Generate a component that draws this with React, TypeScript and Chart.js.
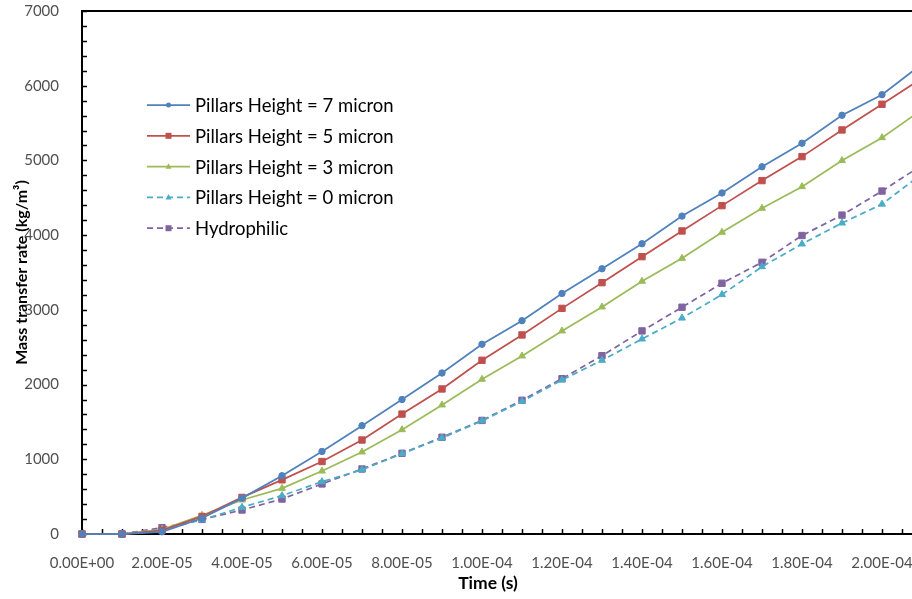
import React, { useEffect, useRef } from 'react';
import { Chart, registerables } from 'chart.js';

Chart.register(...registerables);

// Time (s)
const times = [
  0, 1e-5, 2e-5, 3e-5, 4e-5, 5e-5, 6e-5, 7e-5, 8e-5, 9e-5, 1e-4,
  1.1e-4, 1.2e-4, 1.3e-4, 1.4e-4, 1.5e-4, 1.6e-4, 1.7e-4, 1.8e-4, 1.9e-4, 2e-4, 2.1e-4,
];

// Mass transfer rate (kg/m3)
const height7 = [0, 0, 30, 210, 480, 780, 1105, 1450, 1800, 2155, 2540, 2855, 3220, 3550, 3885, 4255, 4565, 4915, 5230, 5605, 5880, 6290];
const height5 = [0, 0, 50, 235, 490, 725, 970, 1258, 1605, 1941, 2325, 2664, 3020, 3364, 3712, 4056, 4395, 4730, 5051, 5408, 5752, 6100];
const height3 = [0, 0, 60, 250, 455, 611, 843, 1098, 1396, 1727, 2071, 2383, 2718, 3039, 3383, 3690, 4039, 4360, 4649, 4998, 5305, 5680];
const height0 = [0, 0, 60, 190, 357, 513, 700, 860, 1075, 1285, 1515, 1775, 2062, 2325, 2610, 2890, 3204, 3578, 3882, 4162, 4415, 4820];
const hydrophilic = [0, 0, 85, 195, 321, 468, 670, 870, 1080, 1295, 1520, 1790, 2079, 2387, 2718, 3035, 3356, 3637, 3995, 4268, 4590, 4937];

const seriesLabels = [
  'Pillars Height = 7 micron',
  'Pillars Height = 5 micron',
  'Pillars Height = 3 micron',
  'Pillars Height = 0 micron',
  'Hydrophilic',
];

const xMin = 0;
const xMax = 2.2e-4;
const xStep = 2e-5;
const xMinorStep = 5e-6;
const yMin = 0;
const yMax = 7000;
const yStep = 1000;
const yMinorStep = 200;

const xTitle = 'Time (s)';
const yTitle = 'Mass transfer rate (kg/m\u00B3)';

const FONT = 'Lato, "Noto Sans", sans-serif';
const TICK_COLOR = '#505050';

function fmtExp(v: number): string {
  if (Math.abs(v) < 1e-15) return '0.00E+00';
  const [m, e] = v.toExponential(2).split('e');
  const n = parseInt(e, 10);
  return m + 'E' + (n < 0 ? '-' : '+') + String(Math.abs(n)).padStart(2, '0');
}

function drawMarker(ctx: CanvasRenderingContext2D, style: string, x: number, y: number, r: number, color: string) {
  ctx.save();
  ctx.fillStyle = color;
  ctx.strokeStyle = color;
  ctx.setLineDash([]);
  ctx.beginPath();
  if (style === 'circle') {
    ctx.arc(x, y, r, 0, Math.PI * 2);
  } else if (style === 'rect') {
    ctx.rect(x - r, y - r, 2 * r, 2 * r);
  } else if (style === 'triangle') {
    ctx.moveTo(x, y - r * 1.1);
    ctx.lineTo(x + r, y + r * 0.7);
    ctx.lineTo(x - r, y + r * 0.7);
    ctx.closePath();
  }
  ctx.fill();
  ctx.restore();
}

const framePlugin = {
  id: 'frame',
  beforeDatasetsDraw(chart: any) {
    const { ctx, chartArea } = chart;
    const xs = chart.scales.x;
    const ys = chart.scales.y;
    const { left, right, top, bottom } = chartArea;
    ctx.save();
    ctx.strokeStyle = '#000';
    ctx.lineWidth = 1.5;
    for (let v = yMin; v <= yMax + 1e-9; v += yMinorStep) {
      const py = Math.round(ys.getPixelForValue(v)) + 0.5;
      ctx.beginPath();
      ctx.moveTo(left, py);
      ctx.lineTo(left + 5, py);
      ctx.stroke();
    }
    for (let i = 0; i * xMinorStep <= xMax + 1e-12; i++) {
      const px = Math.round(xs.getPixelForValue(i * xMinorStep)) + 0.5;
      ctx.beginPath();
      ctx.moveTo(px, bottom);
      ctx.lineTo(px, bottom - 5);
      ctx.stroke();
    }
    ctx.lineWidth = 2;
    ctx.beginPath();
    ctx.moveTo(left, top);
    ctx.lineTo(right, top);
    ctx.moveTo(left, top - 1);
    ctx.lineTo(left, bottom + 1);
    ctx.moveTo(left - 1, bottom);
    ctx.lineTo(right, bottom);
    ctx.stroke();
    ctx.restore();
  },
};

const legendPlugin = {
  id: 'customLegend',
  afterDraw(chart: any) {
    const { ctx } = chart;
    const x0 = 147;
    const x1 = 190;
    const y0 = 105;
    const dy = 30.8;
    ctx.save();
    chart.data.datasets.forEach((ds: any, i: number) => {
      const y = y0 + i * dy;
      ctx.strokeStyle = ds.borderColor;
      ctx.lineWidth = 1.75;
      ctx.setLineDash(ds.borderDash || []);
      ctx.beginPath();
      ctx.moveTo(x0, y);
      ctx.lineTo(x1, y);
      ctx.stroke();
      const r = ds.pointStyle === 'circle' ? 2.5 : 3;
      drawMarker(ctx, ds.pointStyle, (x0 + x1) / 2, y, r, ds.borderColor);
      ctx.fillStyle = '#000';
      ctx.font = `18.5px ${FONT}`;
      ctx.textBaseline = 'middle';
      ctx.textAlign = 'left';
      ctx.fillText(ds.label, 195, y + 1);
    });
    ctx.restore();
  },
};

const xTitlePlugin = {
  id: 'xTitle',
  afterDraw(chart: any) {
    const { ctx, chartArea } = chart;
    ctx.save();
    ctx.fillStyle = '#000';
    ctx.font = `bold 17.5px ${FONT}`;
    ctx.textAlign = 'center';
    ctx.textBaseline = 'middle';
    ctx.fillText(xTitle, chartArea.left + 406, 583);
    ctx.restore();
  },
};

export default function App() {
  const ref = useRef<HTMLCanvasElement>(null);
  useEffect(() => {
    const canvas = ref.current;
    if (!canvas) return;
    const pts = (vals: number[]) => times.map((t, i) => ({ x: t, y: vals[i] }));
    const mk = (i: number, vals: number[], color: string, style: string, radius: number, dashed: boolean) => ({
      label: seriesLabels[i],
      data: pts(vals),
      borderColor: color,
      backgroundColor: color,
      pointBackgroundColor: color,
      pointBorderColor: color,
      pointStyle: style,
      pointRadius: radius,
      pointBorderWidth: 1,
      borderWidth: 1.75,
      borderDash: dashed ? [6, 4] : [],
      tension: 0,
      clip: false as any,
      fill: false,
    });
    const chart = new Chart(canvas, {
      type: 'line',
      data: {
        datasets: [
          mk(0, height7, '#4F81BD', 'circle', 3.2, false),
          mk(1, height5, '#C0504D', 'rect', 4.5, false),
          mk(2, height3, '#9BBB59', 'triangle', 4, false),
          mk(3, height0, '#4BACC6', 'triangle', 4, true),
          mk(4, hydrophilic, '#8064A2', 'rect', 4.5, true),
        ] as any,
      },
      options: {
        responsive: false,
        animation: false,
        events: [],
        layout: { padding: { top: 11, right: 8, left: 0, bottom: 0 } },
        plugins: {
          legend: { display: false },
          tooltip: { enabled: false },
          title: { display: false },
        },
        scales: {
          x: {
            type: 'linear',
            min: xMin,
            max: xMax,
            grid: { display: false },
            border: { display: false },
            ticks: {
              stepSize: xStep,
              autoSkip: false,
              maxRotation: 0,
              padding: 12,
              color: TICK_COLOR,
              font: { family: FONT, size: 15 },
              callback: (v: any) => (Number(v) > 2.05e-4 ? '' : fmtExp(Number(v))),
            },
            afterFit: (s: any) => {
              s.height = 65;
              s.paddingLeft = 0;
              s.paddingRight = 0;
            },
          },
          y: {
            type: 'linear',
            min: yMin,
            max: yMax,
            grid: { display: false },
            border: { display: false },
            ticks: {
              stepSize: yStep,
              padding: 15,
              color: TICK_COLOR,
              font: { family: FONT, size: 15 },
              callback: (v: any) => String(v),
            },
            title: {
              display: true,
              text: yTitle,
              color: '#000',
              font: { family: FONT, size: 16, weight: 'bold' },
              padding: { top: 12, bottom: 4 },
            },
            afterFit: (s: any) => {
              s.width = 82;
              s.paddingTop = 0;
              s.paddingBottom = 0;
            },
          },
        },
      } as any,
      plugins: [framePlugin, legendPlugin, xTitlePlugin],
    });
    return () => chart.destroy();
  }, []);
  return (
    <div style={{ position: 'fixed', left: 0, top: 0, width: 912, height: 599, overflow: 'hidden', background: '#fff' }}>
      <canvas ref={ref} width={970} height={599} style={{ display: 'block' }} />
    </div>
  );
}
